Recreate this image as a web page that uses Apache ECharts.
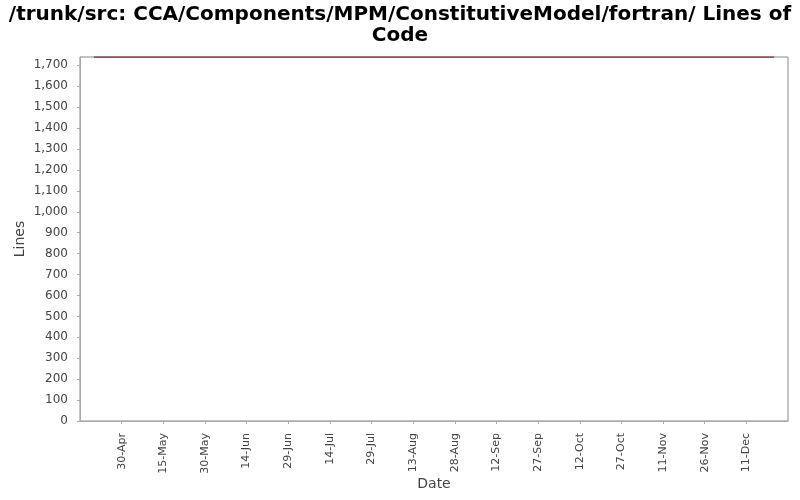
<!DOCTYPE html>
<html>
<head>
<meta charset="utf-8">
<script src="https://cdn.jsdelivr.net/npm/echarts@6/dist/echarts.min.js"></script>
<style>html,body{margin:0;padding:0;background:#fff;}#c{width:800px;height:500px;}</style>
</head>
<body>
<div id="c"></div>
<script>
var titleLines = ["/trunk/src: CCA/Components/MPM/ConstitutiveModel/fortran/ Lines of", "Code"];
var axisStart = "2007-04-15";
var axisEnd = "2007-12-26";
var dates = ["2007-04-20", "2007-12-21"];
var lines = [1740, 1740];
var yMax = 1740;
var yStep = 100;
var xStepDays = 15;

var DAY = 86400000;
var t0 = Date.parse(axisStart + "T00:00:00Z");
function dayOf(s){ return Math.round((Date.parse(s + "T00:00:00Z") - t0) / DAY); }
var MON = ["Jan","Feb","Mar","Apr","May","Jun","Jul","Aug","Sep","Oct","Nov","Dec"];
function fmtDay(d){ var dt = new Date(t0 + d * DAY); return dt.getUTCDate() + "-" + MON[dt.getUTCMonth()]; }
var seriesData = dates.map(function(s, i){ return [dayOf(s), lines[i]]; });

var titleStyle = { fontFamily: 'DejaVu Sans', fontWeight: 'bold', fontSize: 20, color: '#000' };
var chart = echarts.init(document.getElementById('c'));
chart.setOption({
  animation: false,
  backgroundColor: '#fff',
  title: titleLines.map(function(t, i){
    return { text: t, left: 'center', top: 5 + i * 21, padding: 0, textStyle: titleStyle };
  }),
  grid: { left: 80, right: 12, top: 57, bottom: 79, show: true, borderColor: '#888', borderWidth: 1, backgroundColor: '#fff' },
  xAxis: {
    type: 'value',
    min: 0,
    max: dayOf(axisEnd),
    interval: xStepDays,
    offset: 5,
    name: 'Date',
    nameLocation: 'middle',
    nameGap: 51,
    nameMoveOverlap: false,
    nameTextStyle: { fontFamily: 'DejaVu Sans', fontSize: 14, color: '#444' },
    axisLine: { show: true, lineStyle: { color: '#aaa' } },
    axisTick: { show: true, length: 3, lineStyle: { color: '#aaa' } },
    axisLabel: { rotate: 90, fontFamily: 'DejaVu Sans', fontSize: 11, color: '#444', margin: 7, showMinLabel: false, showMaxLabel: false, formatter: function(v){ return fmtDay(v); } },
    splitLine: { show: false }
  },
  yAxis: {
    type: 'value',
    min: 0,
    max: yMax,
    interval: yStep,
    offset: 5,
    name: 'Lines',
    nameLocation: 'middle',
    nameGap: 48,
    nameMoveOverlap: false,
    nameRotate: 90,
    nameTextStyle: { fontFamily: 'DejaVu Sans', fontSize: 14, color: '#444' },
    axisLine: { show: true, lineStyle: { color: '#aaa' } },
    axisTick: { show: true, length: 3, lineStyle: { color: '#aaa' } },
    axisLabel: { fontFamily: 'DejaVu Sans', fontSize: 12, color: '#444', margin: 7, showMaxLabel: false, formatter: function(v){ return v.toLocaleString('en-US'); } },
    splitLine: { show: false }
  },
  series: [{
    type: 'line',
    data: seriesData,
    symbol: 'none',
    lineStyle: { color: '#8b3535', width: 1.5 },
    itemStyle: { color: '#8b3535' }
  }]
});
</script>
</body>
</html>
